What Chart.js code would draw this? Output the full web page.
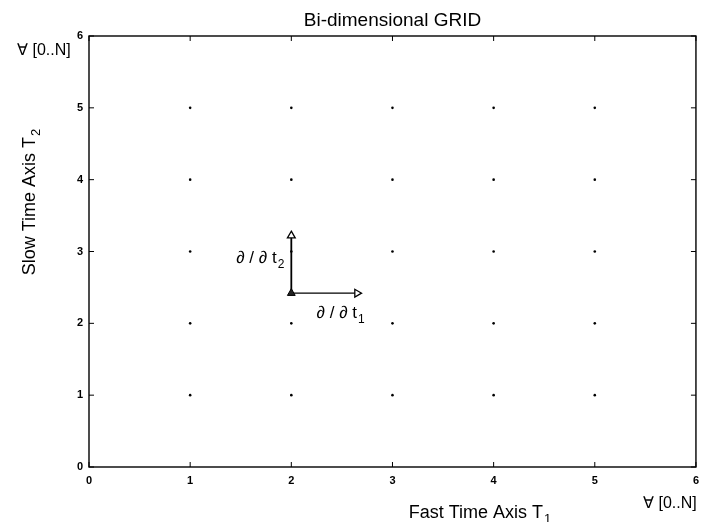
<!DOCTYPE html>
<html>
<head>
<meta charset="utf-8">
<script src="https://cdn.jsdelivr.net/npm/chart.js@4.4.1/dist/chart.umd.min.js"></script>
<style>
  html, body { margin: 0; background: #fff; }
</style>
</head>
<body>
<canvas id="gridChart" width="706" height="522"></canvas>
<script>
// grid nodes and axis ticks
const gridX = [1, 2, 3, 4, 5];
const gridY = [1, 2, 3, 4, 5];
const axisTicks = [0, 1, 2, 3, 4, 5, 6];

// derivative arrows: common origin and the two end points
const origin = [2, 2.42];
const t1End = 2.65;
const t2End = 3.22;

const FONT = '"Liberation Sans", Arial, Helvetica, sans-serif';

const nodes = [];
gridY.forEach(y => gridX.forEach(x => nodes.push({ x: x, y: y })));

// text with a subscript after it
function subText(ctx, main, sub, x, y, align, size) {
    ctx.font = size + 'px ' + FONT;
    const w1 = ctx.measureText(main).width;
    ctx.font = Math.round(size * 0.72) + 'px ' + FONT;
    const w2 = ctx.measureText(sub).width;
    let x0 = x;
    if (align === 'right') x0 = x - w1 - w2 - 1;
    else if (align === 'center') x0 = x - (w1 + w2 + 1) / 2;
    ctx.textAlign = 'left';
    ctx.textBaseline = 'alphabetic';
    ctx.font = size + 'px ' + FONT;
    ctx.fillText(main, x0, y);
    ctx.font = Math.round(size * 0.72) + 'px ' + FONT;
    ctx.fillText(sub, x0 + w1 + 1, y + size * 0.3);
}

const framePlugin = {
    id: 'frame',
    afterDraw(chart) {
        const ctx = chart.ctx;
        const a = chart.chartArea;
        const sx = chart.scales.x, sy = chart.scales.y;
        ctx.save();
        ctx.strokeStyle = '#000';
        ctx.fillStyle = '#000';
        ctx.lineWidth = 1.4;
        ctx.strokeRect(a.left, a.top, a.right - a.left, a.bottom - a.top);

        // inward tick marks on all four sides
        ctx.lineWidth = 1;
        ctx.beginPath();
        axisTicks.forEach(v => {
            const px = sx.getPixelForValue(v);
            ctx.moveTo(px, a.bottom); ctx.lineTo(px, a.bottom - 5);
            ctx.moveTo(px, a.top); ctx.lineTo(px, a.top + 5);
            const py = sy.getPixelForValue(v);
            ctx.moveTo(a.left, py); ctx.lineTo(a.left + 5, py);
            ctx.moveTo(a.right, py); ctx.lineTo(a.right - 5, py);
        });
        ctx.stroke();

        // title over the plot centre
        ctx.font = '19px ' + FONT;
        ctx.textAlign = 'center';
        ctx.textBaseline = 'alphabetic';
        ctx.fillText('Bi-dimensional GRID', (a.left + a.right) / 2, 26);

        // axis titles
        subText(ctx, 'Fast Time Axis T', '1', 480, 518, 'center', 18);
        ctx.save();
        ctx.translate(35, 202);
        ctx.rotate(-Math.PI / 2);
        subText(ctx, 'Slow Time Axis T', '2', 0, 0, 'center', 18);
        ctx.restore();

        // index range notes
        ctx.font = '16px ' + FONT;
        ctx.textAlign = 'left';
        ctx.fillText('\u2200 [0..N]', 17, 55);
        ctx.fillText('\u2200 [0..N]', 643, 508);

        // derivative labels next to the arrows
        subText(ctx, '\u2202 / \u2202 t', '2',
            sx.getPixelForValue(origin[0]) - 7, 263, 'right', 17);
        subText(ctx, '\u2202 / \u2202 t', '1',
            sx.getPixelForValue(2.25), 318, 'left', 17);
        ctx.restore();
    }
};

new Chart(document.getElementById('gridChart'), {
    type: 'scatter',
    data: {
        datasets: [
            {
                // base marker at the arrow origin
                data: [{ x: origin[0], y: origin[1] }],
                pointStyle: 'triangle',
                pointRadius: 4.5,
                pointBackgroundColor: '#222',
                pointBorderColor: '#000',
                pointBorderWidth: 1
            },
            {
                data: [{ x: origin[0], y: origin[1] }, { x: t1End, y: origin[1] }],
                showLine: true,
                borderColor: '#000',
                borderWidth: 1.4,
                pointStyle: 'triangle',
                pointRadius: [0, 4.5],
                pointRotation: [0, 90],
                pointBackgroundColor: '#fff',
                pointBorderColor: '#000',
                pointBorderWidth: 1.3
            },
            {
                data: [{ x: origin[0], y: origin[1] }, { x: origin[0], y: t2End }],
                showLine: true,
                borderColor: '#000',
                borderWidth: 1.8,
                pointStyle: 'triangle',
                pointRadius: [0, 4.5],
                pointRotation: [0, 0],
                pointBackgroundColor: '#fff',
                pointBorderColor: '#000',
                pointBorderWidth: 1.3
            },
            {
                // grid nodes
                data: nodes,
                pointRadius: 1.3,
                pointBackgroundColor: '#000',
                pointBorderWidth: 0
            }
        ]
    },
    options: {
        responsive: false,
        animation: false,
        layout: { padding: { top: 36, right: 8, left: 0, bottom: 0 } },
        plugins: {
            legend: { display: false },
            tooltip: { enabled: false }
        },
        scales: {
            x: {
                type: 'linear',
                min: 0,
                max: 6,
                afterFit(scale) { scale.height = 55; },
                ticks: {
                    stepSize: 1,
                    color: '#000',
                    padding: 7,
                    font: { family: FONT, size: 11, weight: 'bold' }
                },
                grid: { display: false, drawTicks: false },
                border: { display: false }
            },
            y: {
                type: 'linear',
                min: 0,
                max: 6,
                afterFit(scale) { scale.width = 89; },
                ticks: {
                    stepSize: 1,
                    color: '#000',
                    padding: 6,
                    font: { family: FONT, size: 11, weight: 'bold' }
                },
                grid: { display: false, drawTicks: false },
                border: { display: false }
            }
        }
    },
    plugins: [framePlugin]
});
</script>
</body>
</html>
